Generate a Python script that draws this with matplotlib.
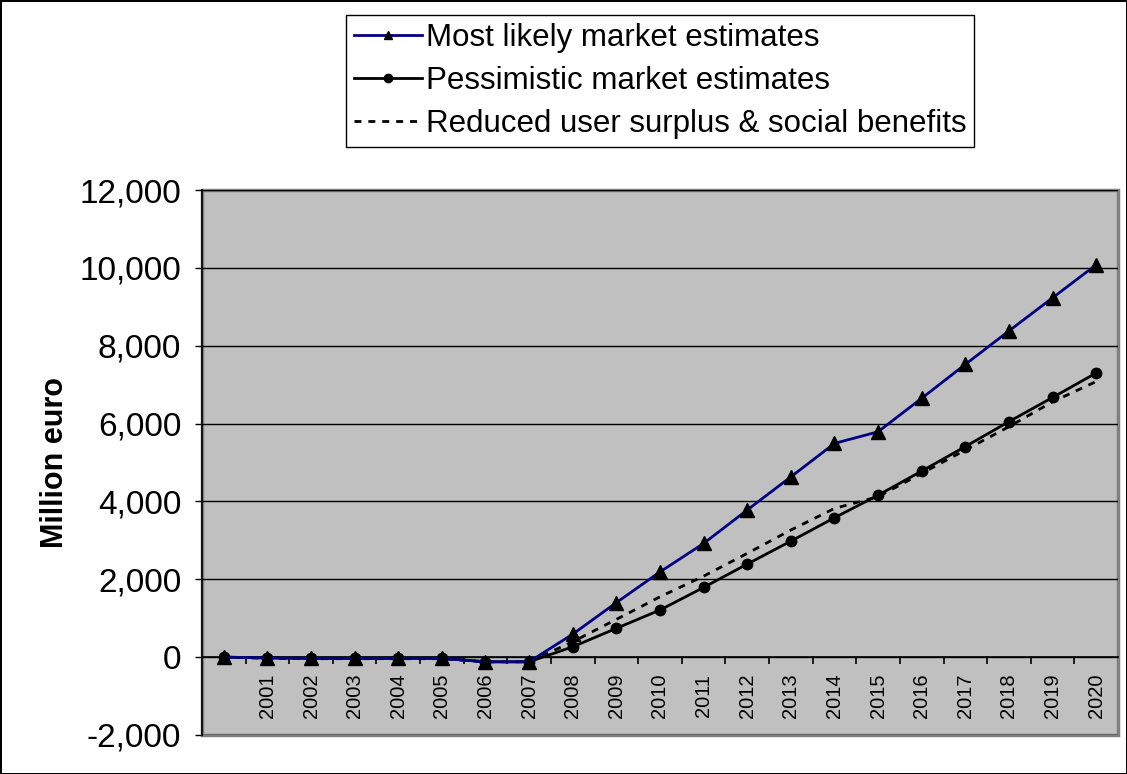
import matplotlib.pyplot as plt
from matplotlib.patches import Rectangle
from matplotlib.ticker import FuncFormatter, MultipleLocator

plt.rcParams["font.family"] = ["Liberation Sans", "DejaVu Sans"]

YEAR_LABELS = [""] + [str(y) for y in range(2001, 2021)]

MOST_LIKELY = [0, -20, -30, -30, -30, -30, -120, -120, 590, 1400, 2190,
               2920, 3780, 4630, 5490, 5790, 6650, 7520, 8380, 9230, 10080]
PESSIMISTIC = [0, -20, -30, -30, -30, -30, -120, -120, 265, 740, 1210,
               1790, 2390, 2980, 3580, 4160, 4780, 5410, 6050, 6670, 7300]
REDUCED = [0, -30, -40, -40, -40, -40, -120, -120, 395, 970, 1550,
           2080, 2665, 3265, 3820, 4120, 4720, 5320, 5920, 6560, 7080]

SERIES_NAMES = [
    "Most likely market estimates",
    "Pessimistic market estimates",
    "Reduced user surplus & social benefits",
]


def main() -> None:
    fig = plt.figure(figsize=(11.27, 7.74), dpi=100)
    fig.patch.set_edgecolor("black")
    fig.patch.set_linewidth(2)

    ax = fig.add_axes([0.1792, 0.0504, 0.8128, 0.7041])
    ax.set_facecolor("#c0c0c0")

    x = list(range(len(YEAR_LABELS)))

    ax.plot(x, REDUCED, color="black", linewidth=2, dashes=(2.5, 2.5),
            label=SERIES_NAMES[2], zorder=3)
    ax.plot(x, PESSIMISTIC, color="black", linewidth=2, marker="o",
            markersize=7.5, label=SERIES_NAMES[1], zorder=4)
    ax.plot(x, MOST_LIKELY, color="#000080", linewidth=2, marker="^",
            markersize=10, markerfacecolor="black", markeredgecolor="black",
            label=SERIES_NAMES[0], zorder=5)

    ax.set_xlim(-0.5, len(YEAR_LABELS) - 0.5)
    ax.set_ylim(-2000, 12000)

    # y axis: comma thousands, black grid
    ax.yaxis.set_major_locator(MultipleLocator(2000))
    ax.yaxis.set_major_formatter(FuncFormatter(lambda v, _: f"{v:,.0f}"))
    ax.grid(axis="y", color="black", linewidth=1, zorder=1)
    ax.set_axisbelow(True)
    ax.tick_params(axis="y", direction="out", length=5, width=1,
                   pad=10, labelsize=24, color="black")

    # category axis sits on the zero line
    ax.spines["bottom"].set_position(("data", 0))
    ax.spines["bottom"].set_color("black")
    ax.spines["bottom"].set_linewidth(1.2)
    ax.set_xticks(x)
    ax.set_xticklabels(YEAR_LABELS, rotation=90, fontsize=14.5)
    ax.set_xticks([i + 0.5 for i in x[:-1]], minor=True)
    ax.tick_params(axis="x", which="major", length=0, pad=12)
    ax.tick_params(axis="x", which="minor", direction="out", length=5,
                   width=1.2, color="black")

    ax.spines["left"].set_color("black")
    ax.spines["left"].set_linewidth(1.2)
    ax.spines["top"].set_visible(False)
    ax.spines["right"].set_visible(False)

    # grey plot-area frame
    ax.add_patch(Rectangle((0, 0), 1, 1, transform=ax.transAxes,
                           fill=False, edgecolor="#808080", linewidth=2.5,
                           clip_on=False, zorder=0.5))

    ax.set_ylabel("Million euro", fontsize=22, fontweight="bold")
    ax.yaxis.set_label_coords(-0.144, 0.5)

    handles, labels = ax.get_legend_handles_labels()
    order = [2, 1, 0]
    leg = fig.legend(
        [handles[i] for i in order],
        [labels[i] for i in order],
        loc="center",
        bbox_to_anchor=(0.5856, 0.8953),
        fontsize=22.5,
        frameon=True,
        fancybox=False,
        edgecolor="black",
        framealpha=1,
        handlelength=2.2,
        handletextpad=0.1,
        labelspacing=0.42,
        borderpad=0.25,
        borderaxespad=0,
    )
    leg.get_frame().set_linewidth(1)
    for h in leg.legend_handles:
        h.set_markersize(6)

    fig.savefig("out.png", dpi=100)
    plt.close(fig)


if __name__ == "__main__":
    main()
